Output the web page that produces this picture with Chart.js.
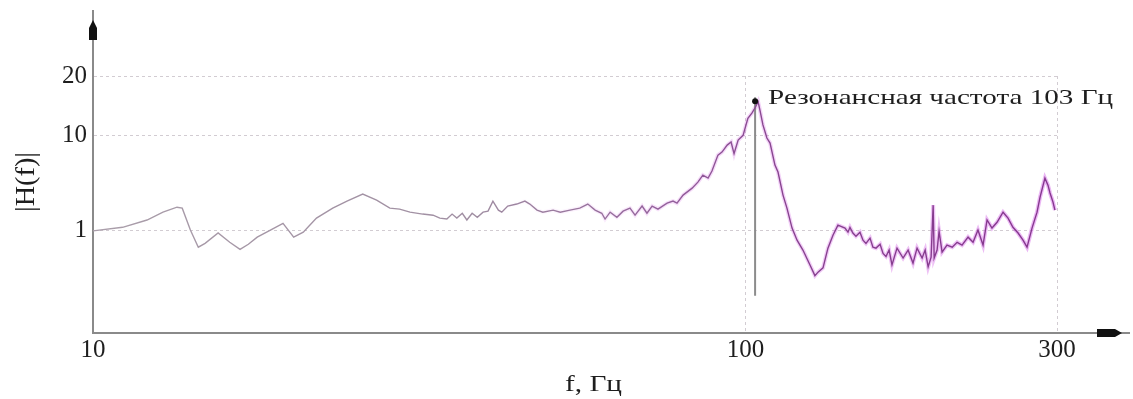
<!DOCTYPE html>
<html lang="ru">
<head>
<meta charset="utf-8">
<title>|H(f)| - резонансная частота</title>
<script src="https://cdn.jsdelivr.net/npm/chart.js@4.4.1/dist/chart.umd.min.js"></script>
<style>
    html, body { margin: 0; padding: 0; background: #fff; }
    #wrap { position: relative; width: 1133px; height: 399px; }
</style>
</head>
<body>
<div id="wrap"><canvas id="responseChart"></canvas></div>
<script>
// Frequency response |H(f)|

// Curve: frequency (Hz) and magnitude
const freqs = [
    10.0, 11.1, 12.1, 12.8, 13.45, 13.7, 14.1, 14.5, 14.85, 15.55,
    16.2, 16.8, 17.3, 17.85, 18.7, 19.55, 20.3, 21.0, 21.5, 22.0,
    23.3, 24.5, 25.9, 27.2, 28.5, 29.5, 30.6, 32.0, 33.2, 34.0,
    34.85, 35.5, 36.1, 36.8, 37.4, 38.1, 38.8, 39.6, 40.3, 41.0,
    41.8, 42.3, 43.2, 44.6, 45.9, 46.7, 47.9, 48.9, 50.7, 52.0,
    53.8, 55.7, 57.3, 58.8, 60.2, 60.9, 62.0, 63.5, 64.9, 66.5,
    67.7, 69.4, 70.6, 71.9, 73.4, 75.8, 77.4, 78.5, 80.2, 82.8,
    84.5, 86.0, 87.6, 88.8, 90.7, 92.0, 93.7, 95.0, 96.0, 97.4,
    99.1, 100.8, 102.3, 103.4, 104.5, 105.2, 106.3, 107.8, 109.0, 110.9,
    112.1, 114.1, 115.7, 117.8, 119.9, 122.4, 125.5, 127.7, 129.1, 131.4,
    133.7, 136.1, 138.5, 142.0, 143.5, 144.5, 146.0, 147.6, 149.7, 151.3,
    152.9, 155.1, 156.7, 158.4, 160.7, 162.4, 164.1, 165.9, 167.6, 170.6,
    174.3, 177.4, 180.5, 183.1, 186.4, 188.4, 190.4, 192.4, 193.8, 194.5,
    196.5, 197.9, 200.0, 203.5, 207.3, 210.9, 214.6, 219.2, 223.1, 227.0,
    231.1, 234.4, 238.5, 242.8, 248.0, 252.4, 256.8, 261.5, 266.1, 269.9,
    274.7, 279.6, 282.6, 287.5, 290.6, 292.7, 295.8, 297.8
];
const mags = [
    1.0, 1.09, 1.30, 1.57, 1.77, 1.73, 1.02, 0.675, 0.74, 0.95,
    0.76, 0.64, 0.725, 0.86, 1.02, 1.20, 0.86, 0.97, 1.15, 1.36,
    1.73, 2.05, 2.43, 2.10, 1.73, 1.69, 1.57, 1.50, 1.46, 1.36,
    1.33, 1.50, 1.36, 1.53, 1.30, 1.53, 1.39, 1.57, 1.61, 2.05,
    1.65, 1.57, 1.82, 1.91, 2.05, 1.91, 1.65, 1.57, 1.65, 1.57,
    1.65, 1.73, 1.91, 1.65, 1.53, 1.33, 1.57, 1.39, 1.61, 1.73,
    1.46, 1.82, 1.53, 1.82, 1.69, 1.95, 2.05, 1.95, 2.37, 2.80,
    3.24, 3.84, 3.57, 4.23, 6.22, 6.68, 7.91, 8.51, 6.45, 8.93,
    10.0, 12.2, 13.0, 13.8, 14.8, 13.4, 11.3, 9.37, 8.30, 4.88,
    4.13, 2.37, 1.73, 1.07, 0.80, 0.63, 0.44, 0.34, 0.37, 0.41,
    0.66, 0.90, 1.15, 1.07, 0.97, 1.09, 0.95, 0.88, 0.97, 0.80,
    0.74, 0.84, 0.675, 0.66, 0.725, 0.58, 0.54, 0.63, 0.44, 0.66,
    0.52, 0.63, 0.46, 0.66, 0.52, 0.63, 0.42, 0.53, 1.86, 0.52,
    0.63, 0.99, 0.60, 0.71, 0.675, 0.76, 0.71, 0.86, 0.76, 1.02,
    0.71, 1.30, 1.07, 1.23, 1.57, 1.36, 1.09, 0.95, 0.80, 0.675,
    1.07, 1.57, 2.26, 3.57, 3.01, 2.49, 2.00, 1.65
];

// Resonance marker (vertical line + dot)
const resonanceFreq = 103.4;
const resonancePeak = 14.9;
const markerSpan = [15.6, 0.21];

// Axes
const xTicks = [10, 100, 300];
const yTicks = [1, 10, 20];
const xRange = [10, 300];
const yRange = [0.0853, 20];

// Texts
const annotationText = 'Резонансная частота 103 Гц';
const xTitle = 'f, Гц';
const yTitle = '|H(f)|';

const SERIF = "'Liberation Serif', 'Times New Roman', serif";
const AXIS_COLOR = '#8a8a8a';
const TEXT_COLOR = '#1e1e1e';

// The source y axis is logarithmic, but the 10..20 part is drawn about
// twice as tall per decade as the part below 10. Same kink here.
const UPPER_STRETCH = 2.065;

function warp(v) {
    const l = Math.log10(v);
    return l <= 1 ? l : 1 + (l - 1) * UPPER_STRETCH;
}

function unwarp(t) {
    return t <= 1 ? Math.pow(10, t) : Math.pow(10, 1 + (t - 1) / UPPER_STRETCH);
}

class KinkedLogScale extends Chart.LinearScale {
    configure() {
        super.configure();
        this._tStart = warp(this.min);
        this._tRange = warp(this.max) - this._tStart;
    }
    getPixelForValue(value) {
        if (value === null || value === undefined || isNaN(value) || value <= 0) return NaN;
        return this.getPixelForDecimal((warp(value) - this._tStart) / this._tRange);
    }
    getValueForPixel(pixel) {
        return unwarp(this._tStart + this.getDecimalForPixel(pixel) * this._tRange);
    }
}
KinkedLogScale.id = 'kinkedLog';
Chart.register(KinkedLogScale);

// Horizontal colour gradient across the plot area
function areaGradient(chart, stops) {
    const area = chart.chartArea;
    if (!area) return stops[0][1];
    const g = chart.ctx.createLinearGradient(area.left, 0, area.right, 0);
    stops.forEach(([offset, color]) => g.addColorStop(offset, color));
    return g;
}

const coreStops = [[0, '#aa9eaa'], [0.4, '#a08ea2'], [0.6, '#935f9b'], [0.72, '#87428f'], [1, '#86368f']];
const haloStops = [[0, 'rgba(215,110,230,0)'], [0.42, 'rgba(215,110,230,0)'], [0.6, 'rgba(215,110,230,0.22)'],
                   [0.8, 'rgba(210,90,228,0.34)'], [1, 'rgba(205,80,228,0.42)']];

// Text squeezed/stretched to a given width (the source figure is widened)
function drawFitted(ctx, text, x, y, width, font, align) {
    ctx.save();
    ctx.font = font;
    const w = ctx.measureText(text).width;
    ctx.translate(x, y);
    ctx.scale(width / w, 1);
    ctx.textAlign = align;
    ctx.fillText(text, 0, 0);
    ctx.restore();
}

// Axis extensions with arrow heads, axis titles and the resonance label
const decorations = {
    id: 'decorations',
    afterDraw(chart) {
        const { ctx, chartArea: a, scales } = chart;
        ctx.save();

        ctx.strokeStyle = AXIS_COLOR;
        ctx.lineWidth = 2;
        ctx.beginPath();
        ctx.moveTo(a.left, a.top);
        ctx.lineTo(a.left, a.top - 66);
        ctx.moveTo(a.right, a.bottom);
        ctx.lineTo(a.right + 73, a.bottom);
        ctx.stroke();

        ctx.fillStyle = '#111';
        // y arrow
        ctx.beginPath();
        ctx.moveTo(a.left - 4, a.top - 36);
        ctx.lineTo(a.left + 4, a.top - 36);
        ctx.lineTo(a.left + 4, a.top - 48);
        ctx.lineTo(a.left, a.top - 56);
        ctx.lineTo(a.left - 4, a.top - 48);
        ctx.closePath();
        ctx.fill();
        // x arrow
        ctx.beginPath();
        ctx.moveTo(a.right + 40, a.bottom - 4);
        ctx.lineTo(a.right + 58, a.bottom - 4);
        ctx.lineTo(a.right + 65, a.bottom);
        ctx.lineTo(a.right + 58, a.bottom + 4);
        ctx.lineTo(a.right + 40, a.bottom + 4);
        ctx.closePath();
        ctx.fill();

        ctx.fillStyle = TEXT_COLOR;
        ctx.textBaseline = 'alphabetic';
        drawFitted(ctx, xTitle, 565, 391, 57, '23px ' + SERIF, 'left');

        ctx.save();
        ctx.translate(27, 182);
        ctx.rotate(-Math.PI / 2);
        ctx.textBaseline = 'middle';
        drawFitted(ctx, yTitle, 0, 0, 60, '27px ' + SERIF, 'center');
        ctx.restore();

        const px = scales.x.getPixelForValue(resonanceFreq);
        const py = scales.y.getPixelForValue(resonancePeak);
        drawFitted(ctx, annotationText, px + 13, py + 3, 345, '22px ' + SERIF, 'left');

        ctx.restore();
    }
};

const curve = freqs.map((f, i) => ({ x: f, y: mags[i] }));

const ctx = document.getElementById('responseChart');
new Chart(ctx, {
    type: 'line',
    data: {
        datasets: [
            {
                label: 'Резонанс',
                data: [{ x: resonanceFreq, y: resonancePeak }],
                showLine: false,
                pointRadius: 3,
                pointBackgroundColor: '#111',
                pointBorderWidth: 0
            },
            {
                label: '|H(f)|',
                data: curve,
                borderColor: (c) => areaGradient(c.chart, coreStops),
                borderWidth: 1.4,
                pointRadius: 0,
                tension: 0
            },
            {
                label: 'marker',
                data: markerSpan.map(v => ({ x: resonanceFreq, y: v })),
                borderColor: '#8c8c8c',
                borderWidth: 2,
                pointRadius: 0
            },
            {
                label: 'halo',
                data: curve,
                borderColor: (c) => areaGradient(c.chart, haloStops),
                borderWidth: 4,
                pointRadius: 0,
                tension: 0
            }
        ]
    },
    options: {
        responsive: true,
        maintainAspectRatio: false,
        animation: false,
        events: [],
        layout: { padding: { top: 76, right: 76, bottom: 0, left: 0 } },
        plugins: {
            legend: { display: false },
            tooltip: { enabled: false }
        },
        scales: {
            x: {
                type: 'logarithmic',
                min: xRange[0],
                max: xRange[1],
                afterBuildTicks: (scale) => { scale.ticks = xTicks.map(v => ({ value: v })); },
                afterFit: (scale) => { scale.height = 66; },
                ticks: {
                    autoSkip: false,
                    maxRotation: 0,
                    padding: 2,
                    color: TEXT_COLOR,
                    font: { family: SERIF, size: 25 },
                    callback: (v) => String(v)
                },
                grid: { color: '#d2ccd2', lineWidth: 1, drawTicks: false },
                border: { display: true, color: AXIS_COLOR, width: 2, dash: [3, 3] }
            },
            y: {
                type: 'kinkedLog',
                min: yRange[0],
                max: yRange[1],
                bounds: 'data',
                afterBuildTicks: (scale) => { scale.ticks = yTicks.map(v => ({ value: v })); },
                afterFit: (scale) => { scale.width = 93; },
                ticks: {
                    padding: 6,
                    color: TEXT_COLOR,
                    font: { family: SERIF, size: 25 },
                    callback: (v) => String(v)
                },
                grid: { color: '#d2ccd2', lineWidth: 1, drawTicks: false },
                border: { display: true, color: AXIS_COLOR, width: 2, dash: [3, 3] }
            }
        }
    },
    plugins: [decorations]
});
</script>
</body>
</html>
